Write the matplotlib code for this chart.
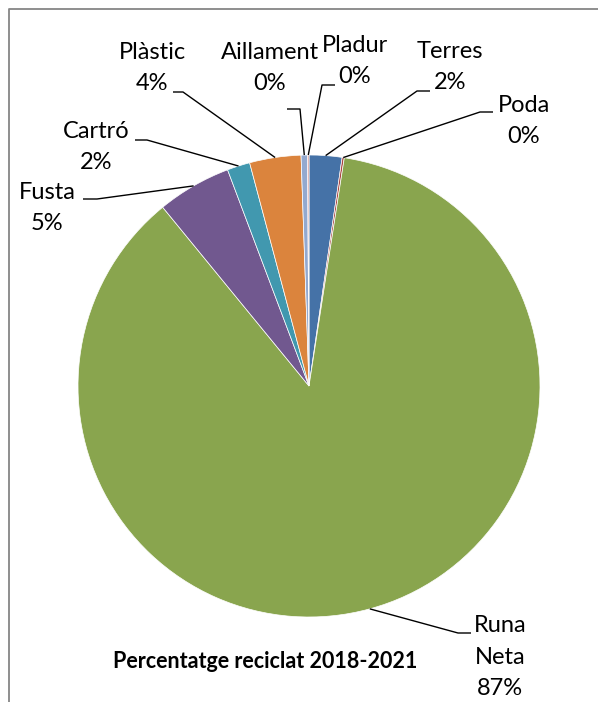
import numpy as np
import matplotlib
matplotlib.use('Agg')
import matplotlib.pyplot as plt

plt.rcParams['font.family'] = ['Lato', 'DejaVu Sans']

# dades (percentatge aproximat de cada residu)
categories = ['Terres', 'Poda', 'Runa\nNeta', 'Fusta', 'Cartró', 'Plàstic', 'Aillament', 'Pladur']
values = [2.3, 0.15, 86.9, 5.2, 1.6, 3.6, 0.45, 0.1]
colors = ['#4572A7', '#AA4643', '#89A54E', '#71588F', '#4198AF', '#DB843D', '#93A9CF', '#D19392']
title = 'Percentatge reciclat 2018-2021'

W, H = 598, 702
cx, cy, R = 309, 386, 231

# posicio de les etiquetes (px des de dalt a l'esquerra) i tram horitzontal de la linia guia
label_pos = [(450, 67), (524, 121), (500, 657), (47, 208), (96, 147), (152, 68), (270, 68), (355, 61)]
leader_seg = [(430, 417, 91), (493, 480, 112), (471, 458, 633), (83, 97, 199),
              (135, 147, 140), (173, 183, 92), (287, 300, 109), (335, 322, 85)]


def py(y):
    return H - y


fig = plt.figure(figsize=(W / 100, H / 100), dpi=100)
fig.patch.set_facecolor('white')
ax = fig.add_axes([0, 0, 1, 1])

wedges, _ = ax.pie(values, colors=colors, startangle=90, counterclock=False,
                   center=(cx, py(cy)), radius=R, frame=True,
                   wedgeprops=dict(edgecolor='white', linewidth=0.5))
ax.set_xlim(0, W)
ax.set_ylim(0, H)
ax.axis('off')

total = sum(values)
for w, name, v, (tx, ty), (x0, x1, ly) in zip(wedges, categories, values, label_pos, leader_seg):
    ang = np.deg2rad((w.theta1 + w.theta2) / 2)
    ex = cx + R * np.cos(ang)
    ey = py(cy) + R * np.sin(ang)
    ax.plot([x0, x1, ex], [py(ly), py(ly), ey], color='black', lw=1.0, solid_capstyle='butt')
    pct = '%d%%' % round(v / total * 100)
    ax.text(tx, py(ty), name + '\n' + pct, ha='center', va='center', fontsize=17,
            linespacing=1.6, color='black')

ax.text(265, py(662), title, ha='center', va='center', fontsize=15.5, fontweight='bold')

# marc gris
ax.plot([9, 9, W], [0, py(9), py(9)], color='#868686', lw=1.3)

fig.savefig('out.png', dpi=100)
